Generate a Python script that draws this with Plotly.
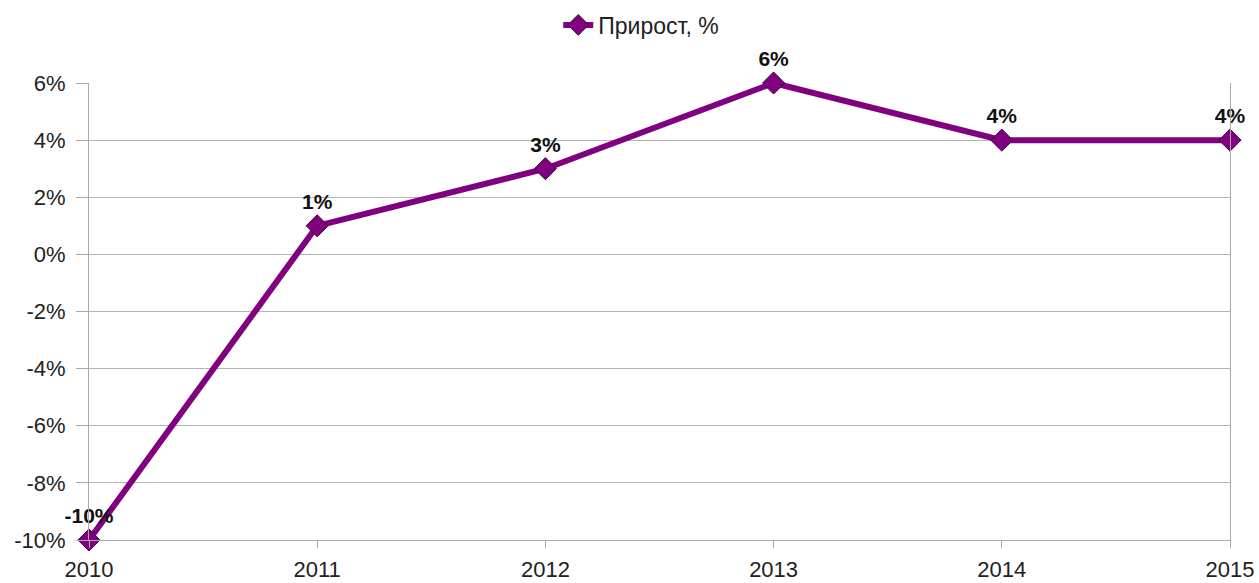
import plotly.graph_objects as go

years = ["2010", "2011", "2012", "2013", "2014", "2015"]
growth = [-10, 1, 3, 6, 4, 4]
labels = ["-10%", "1%", "3%", "6%", "4%", "4%"]
y_ticks = [-10, -8, -6, -4, -2, 0, 2, 4, 6]
y_tick_text = ["-10%", "-8%", "-6%", "-4%", "-2%", "0%", "2%", "4%", "6%"]

purple = "#800080"
font_family = "Liberation Sans, Arial, sans-serif"

fig = go.Figure()
fig.add_trace(go.Scatter(
    x=years, y=growth, mode="lines+markers+text", name="Прирост, %",
    line=dict(color=purple, width=6),
    marker=dict(symbol="diamond", size=17, color=purple, line=dict(color="#3a0a3a", width=1)),
    text=labels, textposition="top center",
    textfont=dict(family=font_family, size=21, color="#111111", weight="bold"),
    cliponaxis=False,
))

fig.update_layout(
    width=1259, height=583,
    paper_bgcolor="white", plot_bgcolor="white",
    margin=dict(l=89, r=29, t=83, b=43, autoexpand=False),
    font=dict(family=font_family, size=22, color="#222222"),
    showlegend=True,
    legend=dict(orientation="h", x=0.484, xanchor="center", y=1.127, yanchor="middle",
                font=dict(size=23, color="#222222"), itemwidth=30),
    xaxis=dict(
        type="category", range=[0, 5], showgrid=False, automargin=False,
        showline=True, linecolor="#aaaaaa", linewidth=1,
        ticks="outside", ticklen=7, tickcolor="#aaaaaa",
        ticklabelstandoff=3,
        tickfont=dict(size=22, color="#222222"),
    ),
    yaxis=dict(
        range=[-10, 6], tickvals=y_ticks, ticktext=y_tick_text, automargin=False,
        showgrid=True, gridcolor="#b4b4b4", gridwidth=1,
        showline=True, linecolor="#aaaaaa", linewidth=1, mirror=True,
        ticks="outside", ticklen=12, tickcolor="#aaaaaa",
        ticklabelstandoff=6, zeroline=False,
        tickfont=dict(size=22, color="#222222"),
    ),
)

fig.write_html(
    "out.html",
    config={"displayModeBar": False},
    post_script="document.body.style.margin='0';document.body.style.overflow='hidden';",
)
